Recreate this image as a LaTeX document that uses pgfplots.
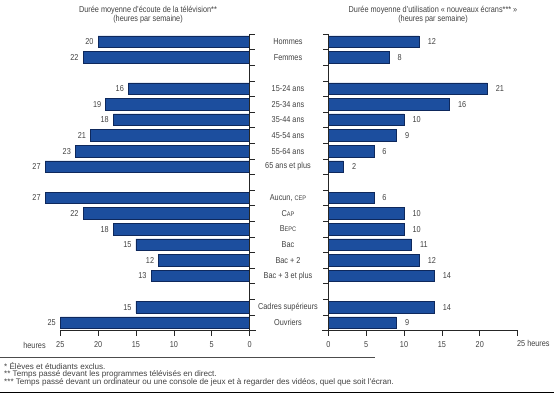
\documentclass[border=0pt]{standalone}
\usepackage{fontspec}
\setmainfont{Liberation Sans}[FakeStretch=0.85]
\newfontfamily\notefont{Liberation Sans}
\usepackage{pgfplots}
\pgfplotsset{compat=1.18}
\usepackage{pgfplotstable}
\definecolor{barblue}{RGB}{28,78,158}
\definecolor{baredge}{RGB}{14,40,92}
\definecolor{txt}{RGB}{65,65,65}
\newcommand\psc[1]{{\fontsize{6.6}{7}\selectfont #1}}

\pgfplotstableread{
y tv ne
18 20 12
17 22 8
15 16 21
14 19 16
13 18 10
12 21 9
11 23 6
10 27 2
8 27 6
7 22 10
6 18 10
5 15 11
4 12 12
3 13 14
1 15 14
0 25 9
}\data

\pgfplotsset{
  panel/.style={
    scale only axis, width=195.3pt, height=296.5pt,
    ymin=-0.5, ymax=18.5, xmin=-0.8, xmax=25,
    axis x line*=bottom, axis y line*=left,
    y axis line style={draw=none},
    x axis line style={-, draw=black!85, line width=0.6pt},
    tick align=outside, major tick length=5pt,
    xtick style={draw=black!85, line width=0.6pt},
    ytick style={draw=none},
    clip=false,
    /pgf/number format/assume math mode=true,
    ticklabel style={text=txt, font=\fontsize{8.6}{10}\selectfont},
    xticklabel style={yshift=-2.5pt},
    xbar, bar width=0.75,
    nodes near coords,
    every node near coord/.append style={text=txt, font=\fontsize{8.6}{10}\selectfont},
  }
}

\begin{document}
\begin{tikzpicture}[font=\fontsize{8.6}{10}\selectfont, text=txt]
\path[use as bounding box] (0pt,0pt) rectangle (554pt,-393pt);

% left panel
\begin{axis}[panel, x dir=reverse,
  at={(60.3pt,-330.5pt)}, anchor=south west,
  xtick={0,5,...,25}, ytick=\empty,
  nodes near coords align={left},
  every node near coord/.append style={xshift=-1pt}]
\addplot[fill=barblue, draw=baredge, line width=0.5pt] table[x=tv, y=y] {\data};
\draw[black!85, line width=0.6pt] (axis cs:0,18.5) -- (axis cs:0,-0.5);
\pgfplotsinvokeforeach{0.5,1.5,...,18.5}{\draw[black!85, line width=0.6pt] (axis cs:0,#1) -- ++(5pt,0pt);}
\end{axis}

% right panel
\begin{axis}[panel,
  at={(322.3pt,-330.5pt)}, anchor=south west,
  xtick={0,5,...,20},
  extra x ticks={25}, extra x tick labels={25 heures},
  extra x tick style={xticklabel style={anchor=north west, xshift=-4pt, yshift=1.5pt}},
  ytick={18,17,15,14,13,12,11,10,8,7,6,5,4,3,1,0},
  yticklabels={Hommes,Femmes,15-24 ans,25-34 ans,35-44 ans,45-54 ans,55-64 ans,65 ans et plus,{Aucun, \psc{CEP}},C\psc{AP},B\psc{EPC},Bac,Bac + 2,Bac + 3 et plus,Cadres supérieurs,Ouvriers},
  yticklabel style={anchor=center, xshift=-29.3pt},
  nodes near coords align={right},
  every node near coord/.append style={xshift=5pt}]
\addplot[fill=barblue, draw=baredge, line width=0.5pt] table[x=ne, y=y] {\data};
\draw[black!85, line width=0.6pt] (axis cs:0,18.5) -- (axis cs:0,-0.5);
\pgfplotsinvokeforeach{0.5,1.5,...,18.5}{\draw[black!85, line width=0.6pt] (axis cs:0,#1) -- ++(-5pt,0pt);}
\end{axis}

% titles
\node[align=center, font=\fontsize{8.6}{9.4}\selectfont] at (148pt,-15pt) {Durée moyenne d'écoute de la télévision**\\(heures par semaine)};
\node[align=center, font=\fontsize{8.6}{9.4}\selectfont] at (433pt,-15pt) {Durée moyenne d'utilisation « nouveaux écrans*** »\\(heures par semaine)};

\node at (34.5pt,-345pt) {heures};

% footnotes
\draw[black!70, line width=0.5pt] (0pt,-357.7pt) -- (375pt,-357.7pt);
\begin{scope}[font=\notefont\fontsize{8.1}{9}\selectfont]
\node[anchor=west, inner sep=0pt] at (4pt,-366pt) {* Élèves et étudiants exclus.};
\node[anchor=west, inner sep=0pt] at (4pt,-374.3pt) {** Temps passé devant les programmes télévisés en direct.};
\node[anchor=west, inner sep=0pt] at (4pt,-382.7pt) {*** Temps passé devant un ordinateur ou une console de jeux et à regarder des vidéos, quel que soit l'écran.};
\end{scope}
\draw[black, line width=1pt] (0pt,-392.3pt) -- (554pt,-392.3pt);
\end{tikzpicture}
\end{document}
